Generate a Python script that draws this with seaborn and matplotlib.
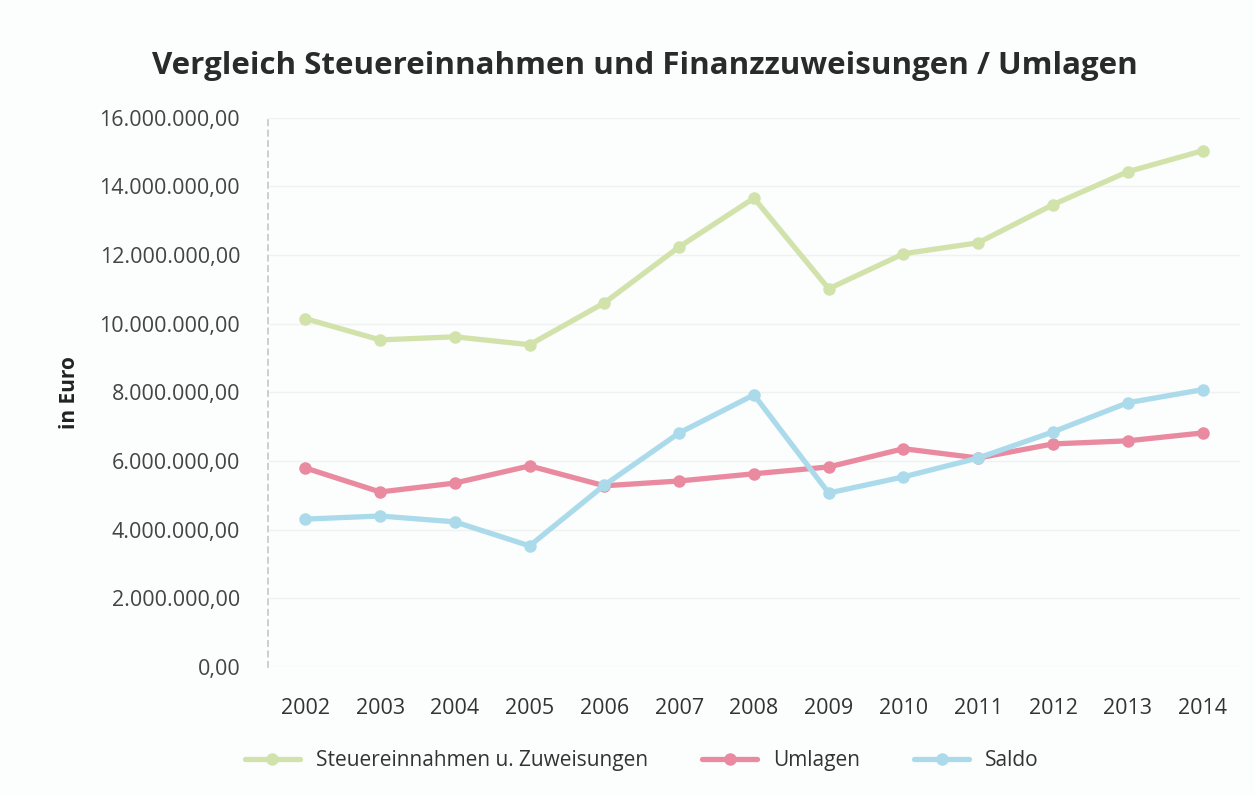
import pandas as pd
import matplotlib.pyplot as plt
import seaborn as sns
from matplotlib.ticker import FuncFormatter, MultipleLocator

# Werte (in Euro)
jahre = ["2002", "2003", "2004", "2005", "2006", "2007", "2008",
         "2009", "2010", "2011", "2012", "2013", "2014"]
steuer = [10150000, 9530000, 9620000, 9390000, 10610000, 12240000, 13660000,
          11020000, 12040000, 12360000, 13470000, 14430000, 15040000]
umlagen = [5800000, 5100000, 5360000, 5860000, 5280000, 5420000, 5630000,
           5830000, 6360000, 6090000, 6500000, 6590000, 6820000]
saldo = [4310000, 4400000, 4230000, 3530000, 5300000, 6820000, 7930000,
         5070000, 5540000, 6090000, 6850000, 7700000, 8080000]

reihen = ["Steuereinnahmen u. Zuweisungen", "Umlagen", "Saldo"]
farben = ["#d2e2ab", "#e98aa0", "#abdbeb"]

df = pd.DataFrame({
    "Jahr": jahre * 3,
    "Wert": steuer + umlagen + saldo,
    "Reihe": [reihen[0]] * 13 + [reihen[1]] * 13 + [reihen[2]] * 13,
})

sns.set_theme(style="white")
plt.rcParams["font.family"] = ["Open Sans", "DejaVu Sans"]

fig = plt.figure(figsize=(12.55, 7.96), dpi=100, facecolor="#fcfdfd")
ax = fig.add_axes([0.2135, 0.162, 0.7745, 0.69])
ax.set_facecolor("#fcfdfd")

sns.lineplot(data=df, x="Jahr", y="Wert", hue="Reihe", palette=farben,
             marker="o", markersize=9, markeredgewidth=0, linewidth=3.8,
             ax=ax)

ax.set_xlim(-0.5, 12.5)
ax.set_ylim(0, 16000000)
ax.yaxis.set_major_locator(MultipleLocator(2000000))


def de_format(v, pos):
    s = f"{v:,.2f}"
    return s.replace(",", "X").replace(".", ",").replace("X", ".")


ax.yaxis.set_major_formatter(FuncFormatter(de_format))
ax.grid(axis="y", color="#f0f1f1", linewidth=1)
for side in ["top", "right", "bottom"]:
    ax.spines[side].set_visible(False)
ax.spines["left"].set_color("#c8c8c8")
ax.spines["left"].set_linestyle((0, (3, 3)))
ax.tick_params(axis="y", labelsize=15.5, colors="#444444", length=0, pad=20)
ax.tick_params(axis="x", labelsize=15.5, colors="#333333", length=0, pad=22)

ax.set_xlabel("")
ax.set_ylabel("in Euro", fontsize=15, fontweight="bold", color="#222222",
              labelpad=14)

fig.text(0.514, 0.917, "Vergleich Steuereinnahmen und Finanzzuweisungen / Umlagen",
         ha="center", va="center", fontsize=22.5, fontweight="bold",
         color="#2a2a2a")

handles, labels = ax.get_legend_handles_labels()
ax.legend(handles, labels, loc="center", bbox_to_anchor=(0.385, -0.17),
          ncol=3, frameon=False, fontsize=15, handlelength=2.6,
          columnspacing=2.6, labelcolor="#333333")

fig.savefig("out.png", dpi=100, facecolor=fig.get_facecolor())
